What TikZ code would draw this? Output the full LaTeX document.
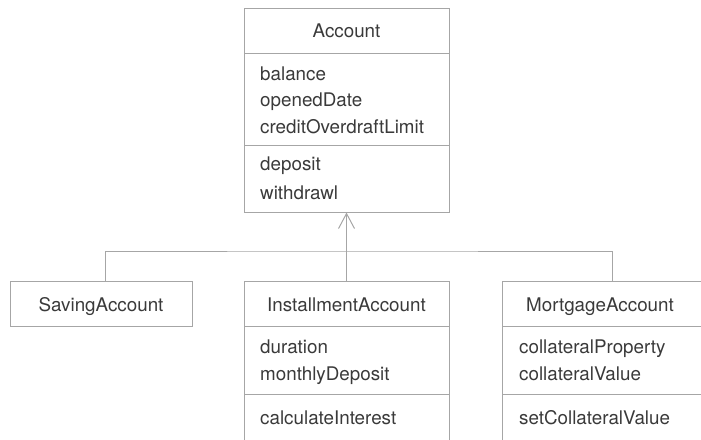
\documentclass[tikz,border=0pt]{standalone}
\usepackage{fontspec}
\setmainfont{TeX Gyre Heros}
\usetikzlibrary{arrows.meta}
\definecolor{linec}{HTML}{A6A6A6}
\definecolor{txtc}{HTML}{3A3A3A}
\begin{document}
\begin{tikzpicture}[x=1pt,y=-1pt,
  box/.style={draw=linec, line width=1pt, rectangle, inner sep=0pt},
  lbl/.style={anchor=base west, inner sep=0pt, text=txtc, font=\fontsize{18.8}{22}\selectfont},
  ttl/.style={anchor=base, inner sep=0pt, text=txtc, font=\fontsize{18.8}{22}\selectfont},
  conn/.style={draw=linec, line width=1pt}]
\useasboundingbox (0,0) rectangle (701,439);
\clip (0,0) rectangle (701,439);
% Account
\node[box, minimum width=205pt, minimum height=204pt] (acc) at (346.5,110) {};
\draw[conn] (244,53) -- (449,53);
\draw[conn] (244,145) -- (449,145);
\node[ttl] (accT) at (346.5,37) {Account};
\node[lbl] (a1) at (260,80) {balance};
\node[lbl] (a2) at (260,106.5) {openedDate};
\node[lbl] (a3) at (260,133) {creditOverdraftLimit};
\node[lbl] (a4) at (260,170) {deposit};
\node[lbl] (a5) at (260,199) {withdrawl};
% Saving
\node[box, minimum width=182pt, minimum height=45pt] (sav) at (101,303.5) {};
\node[ttl] (savT) at (101,311) {SavingAccount};
% Installment
\node[box, minimum width=205pt, minimum height=200pt] (inst) at (346.5,381) {};
\draw[conn] (244,326) -- (449,326);
\draw[conn] (244,394) -- (449,394);
\node[ttl] (instT) at (346.5,311) {InstallmentAccount};
\node[lbl] (i1) at (260,353) {duration};
\node[lbl] (i2) at (260,380) {monthlyDeposit};
\node[lbl] (i3) at (260,424) {calculateInterest};
% Mortgage
\node[box, minimum width=205pt, minimum height=200pt] (mort) at (604.5,381) {};
\draw[conn] (502,326) -- (710,326);
\draw[conn] (502,394) -- (710,394);
\node[ttl] (mortT) at (600,311) {MortgageAccount};
\node[lbl] (m1) at (519,353) {collateralProperty};
\node[lbl] (m2) at (519,380) {collateralValue};
\node[lbl] (m3) at (519,424) {setCollateralValue};
% connectors
\coordinate (junc) at (346.5,251);
\coordinate (savtop) at (105,281);
\coordinate (morttop) at (612,281);
\draw[conn, -{Straight Barb[length=15pt,width=16pt,line width=1pt]}] (inst.north) -- (acc.south);
\draw[conn] (savtop) |- (junc) -| (morttop);
\end{tikzpicture}
\end{document}
